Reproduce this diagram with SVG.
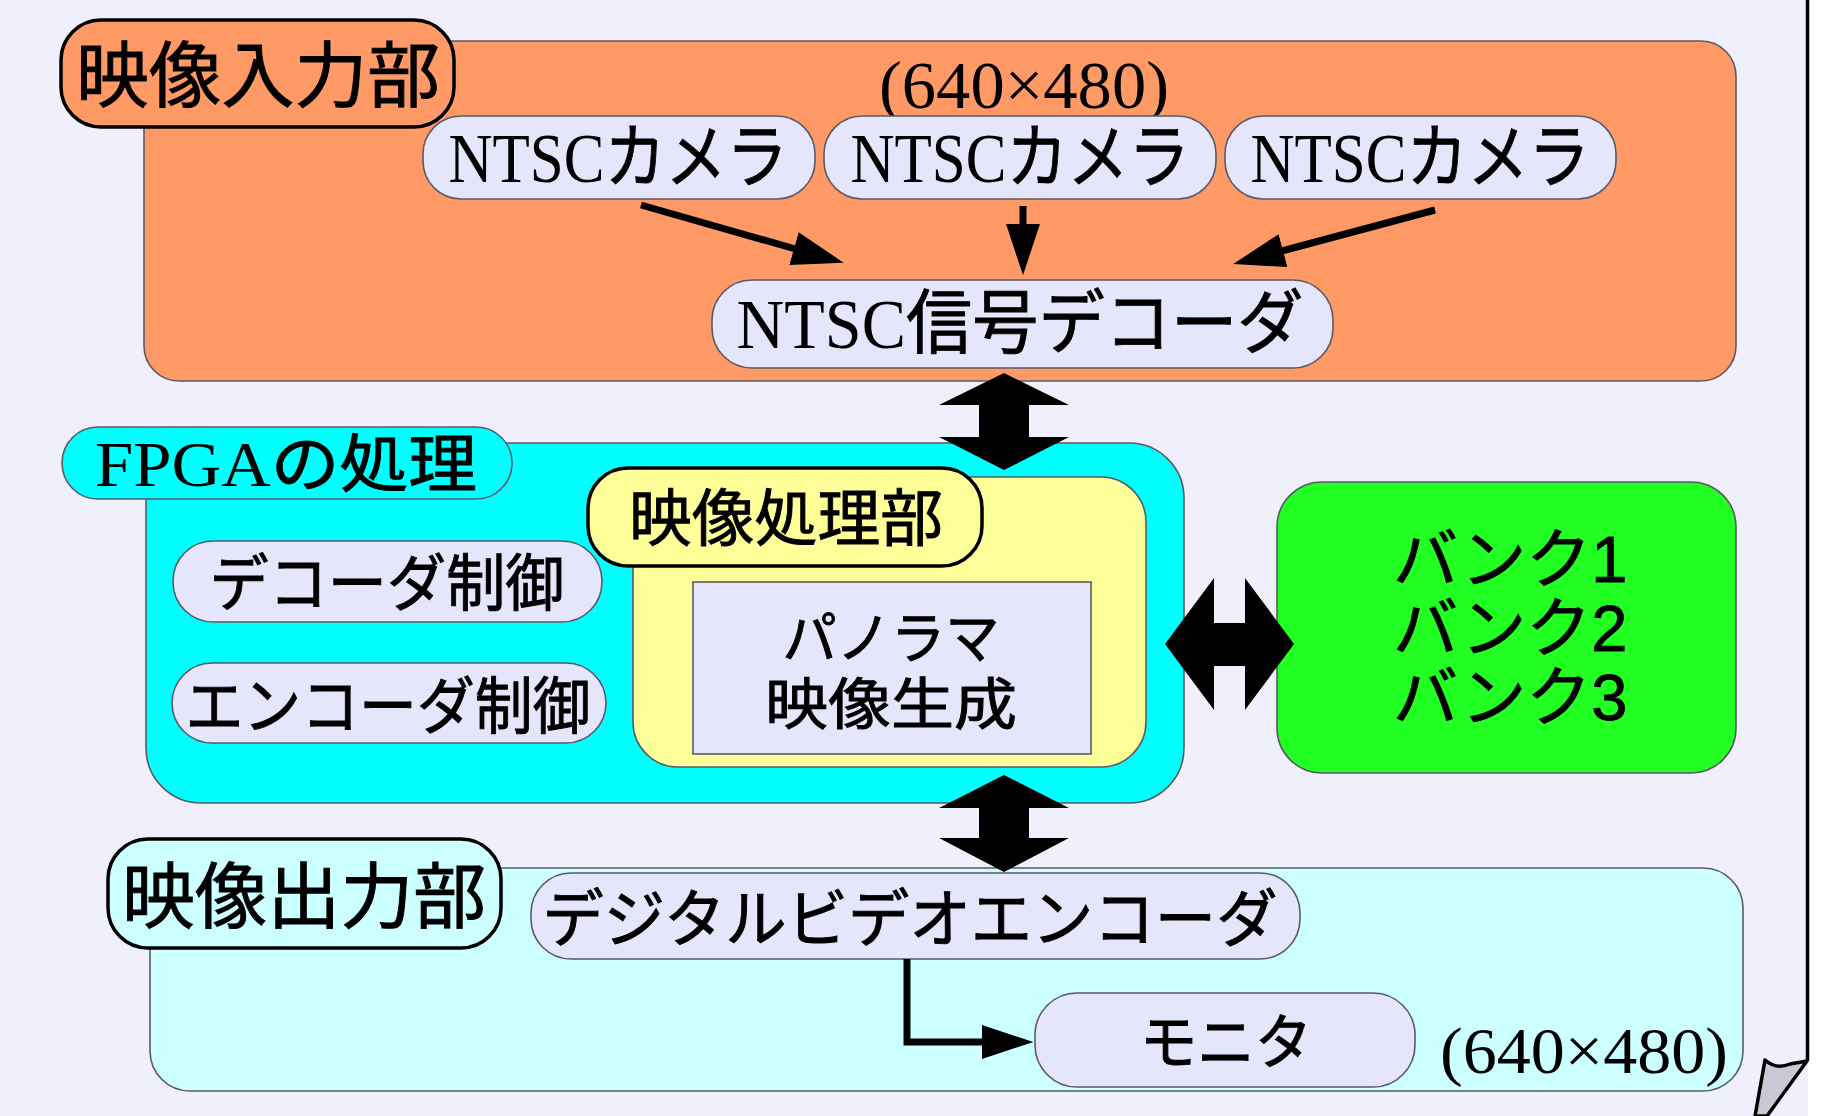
<svg xmlns="http://www.w3.org/2000/svg" width="1826" height="1116" viewBox="0 0 1826 1116">
<defs>
<style>
.box{stroke:#5a5a66;stroke-width:1.6}
.lbl{stroke:#000;stroke-width:3.5}
.node{fill:#e5e5fb}
.t{font-family:"Noto Sans CJK JP","Noto Sans",sans-serif;fill:#000;text-anchor:middle;stroke:#000;stroke-width:0.9}
.s{font-family:"Liberation Serif","Noto Sans CJK JP",serif;stroke:none}
.a{font-family:"Liberation Sans","Noto Sans CJK JP",sans-serif;fill:#000;stroke:#000;stroke-width:0.9}
.con{stroke:#000;stroke-width:7;fill:none}
.blk{fill:#000}
</style>
<marker id="ah" markerUnits="userSpaceOnUse" markerWidth="52" markerHeight="34" refX="5" refY="16.5" orient="auto" viewBox="0 0 50 33">
<path d="M0,0 L50,16.5 L0,33 z" fill="#000"/>
</marker>
</defs>
<rect x="0" y="0" width="1826" height="1116" fill="#ffffff"/>
<rect x="0" y="0" width="1808" height="1116" fill="#f0f0fd"/>
<g id="page-curl">
<line x1="1807.5" y1="0" x2="1807.5" y2="1061" stroke="#000" stroke-width="3.5"/>
<path d="M1765,1060 Q1776,1070 1790,1064 L1807,1061 L1767,1116 L1755,1116 Z" fill="#c9c9d6" stroke="#000" stroke-width="3.5" stroke-linejoin="round"/>
</g>

<g id="input-section">
<rect class="box" x="144" y="41" width="1592" height="340" rx="35" fill="#ff9966"/>
<rect class="lbl" x="61" y="20" width="393" height="107" rx="40" fill="#ff9966"/>
<text class="t" x="258" y="101" font-size="72" textLength="364" lengthAdjust="spacingAndGlyphs">映像入力部</text>
<text class="t s" x="1024" y="108" font-size="68" textLength="290" lengthAdjust="spacingAndGlyphs">(640×480)</text>
</g>

<g id="camera1">
<rect class="box node" x="423" y="116" width="392" height="83" rx="38"/>
<text class="t" x="618" y="182" font-size="70" textLength="339" lengthAdjust="spacingAndGlyphs"><tspan class="s">NTSC</tspan>カメラ</text>
</g>
<g id="camera2">
<rect class="box node" x="824" y="116" width="392" height="83" rx="38"/>
<text class="t" x="1020" y="182" font-size="70" textLength="339" lengthAdjust="spacingAndGlyphs"><tspan class="s">NTSC</tspan>カメラ</text>
</g>
<g id="camera3">
<rect class="box node" x="1225" y="116" width="391" height="83" rx="38"/>
<text class="t" x="1420" y="182" font-size="70" textLength="339" lengthAdjust="spacingAndGlyphs"><tspan class="s">NTSC</tspan>カメラ</text>
</g>
<g id="decoder">
<rect class="box node" x="712" y="280" width="621" height="88" rx="40"/>
<text class="t" x="1020" y="348" font-size="70" textLength="567" lengthAdjust="spacingAndGlyphs"><tspan class="s">NTSC</tspan>信号デコーダ</text>
</g>

<g id="fpga-section">
<rect class="box" x="146" y="443" width="1038" height="360" rx="55" fill="#00ffff"/>
<rect class="box" x="62" y="427" width="450" height="72" rx="36" fill="#00ffff"/>
<text class="t" x="286" y="486" font-size="63" textLength="382" lengthAdjust="spacingAndGlyphs"><tspan class="s">FPGA</tspan>の処理</text>
</g>
<g id="decoder-control">
<rect class="box node" x="173" y="541" width="429" height="81" rx="40"/>
<text class="t" x="387" y="606" font-size="62" textLength="355" lengthAdjust="spacingAndGlyphs">デコーダ制御</text>
</g>
<g id="encoder-control">
<rect class="box node" x="172" y="663" width="434" height="80" rx="40"/>
<text class="t" x="388" y="729" font-size="62" textLength="405" lengthAdjust="spacingAndGlyphs">エンコーダ制御</text>
</g>
<g id="image-processing">
<rect class="box" x="633" y="477" width="513" height="290" rx="45" fill="#ffff99"/>
<rect class="lbl" x="588" y="468" width="394" height="98" rx="40" fill="#ffff99"/>
<text class="t" x="786" y="541" font-size="62" textLength="314" lengthAdjust="spacingAndGlyphs">映像処理部</text>
</g>
<g id="panorama">
<rect class="box node" x="693" y="582" width="398" height="172"/>
<text class="t" x="891" y="658" font-size="56" textLength="217" lengthAdjust="spacingAndGlyphs">パノラマ</text>
<text class="t" x="891" y="724" font-size="56" textLength="252" lengthAdjust="spacingAndGlyphs">映像生成</text>
</g>
<g id="banks">
<rect class="box" x="1277" y="482" width="459" height="291" rx="45" fill="#22ff22"/>
<text class="a" x="1393" y="582" font-size="65">バンク1</text>
<text class="a" x="1393" y="651" font-size="65">バンク2</text>
<text class="a" x="1393" y="720" font-size="65">バンク3</text>
</g>

<g id="output-section">
<rect class="box" x="150" y="868" width="1593" height="223" rx="40" fill="#ccffff"/>
<rect class="lbl" x="108" y="839" width="393" height="109" rx="40" fill="#ccffff"/>
<text class="t" x="304" y="922" font-size="72" textLength="364" lengthAdjust="spacingAndGlyphs">映像出力部</text>
<text class="t s" x="1584" y="1073" font-size="66" textLength="288" lengthAdjust="spacingAndGlyphs">(640×480)</text>
</g>
<g id="encoder">
<rect class="box node" x="531" y="873" width="769" height="86" rx="40"/>
<text class="t" x="910" y="941" font-size="63" textLength="735" lengthAdjust="spacingAndGlyphs">デジタルビデオエンコーダ</text>
</g>
<g id="monitor">
<rect class="box node" x="1035" y="993" width="380" height="94" rx="42"/>
<text class="t" x="1226" y="1064" font-size="60" textLength="172" lengthAdjust="spacingAndGlyphs">モニタ</text>
</g>

<g id="connectors">
<line class="con" x1="641" y1="205" x2="799" y2="250" marker-end="url(#ah)"/>
<line class="con" x1="1023" y1="206" x2="1023" y2="229" marker-end="url(#ah)"/>
<line class="con" x1="1435" y1="210" x2="1278" y2="252" marker-end="url(#ah)"/>
<polyline class="con" points="907,959 907,1042 987,1042" marker-end="url(#ah)"/>
<polygon class="blk" points="1004,373 1069,405 1029,405 1029,437 1069,437 1004,470 939,437 979,437 979,405 939,405"/>
<polygon class="blk" points="1004,775 1069,808 1029,808 1029,838 1069,838 1004,872 939,838 979,838 979,808 939,808"/>
<polygon class="blk" points="1165,644 1214,578 1214,623 1245,623 1245,578 1294,644 1245,710 1245,666 1214,666 1214,710"/>
</g>
</svg>
